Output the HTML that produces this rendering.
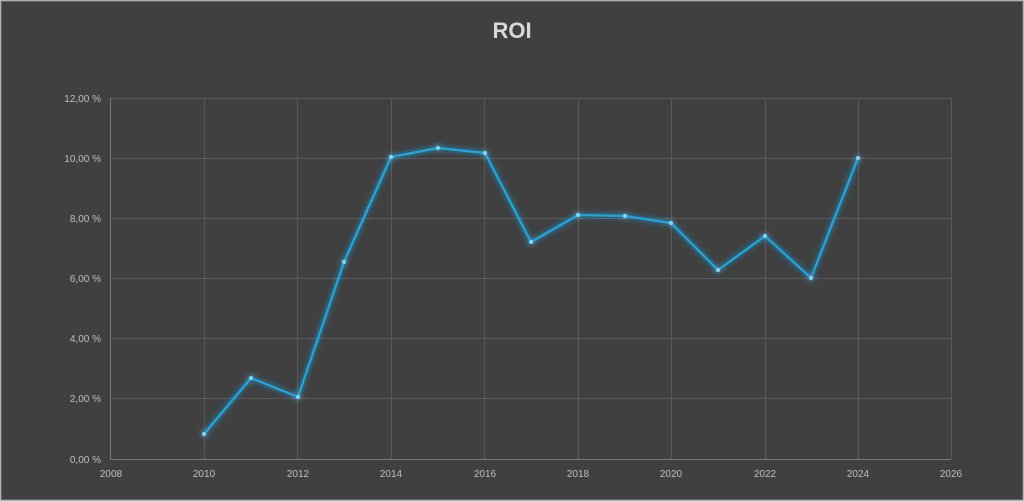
<!DOCTYPE html>
<html><head><style>
html,body{margin:0;padding:0;background:#d9d9d9;}
svg{display:block;}
</style></head><body>
<svg width="1024" height="502" xmlns="http://www.w3.org/2000/svg" font-family="Liberation Sans, sans-serif">
<defs>
<filter id="g" x="-10%" y="-10%" width="120%" height="120%">
<feGaussianBlur in="SourceGraphic" stdDeviation="3" result="b"/>
<feMerge><feMergeNode in="b"/><feMergeNode in="SourceGraphic"/></feMerge>
</filter>
</defs>
<rect x="1" y="1" width="1022" height="499" fill="#404040" stroke="#8a8a8a" stroke-width="1"/>
<text x="512" y="38" text-anchor="middle" font-size="22" font-weight="bold" fill="#d9d9d9">ROI</text>
<g stroke="#5a5a5a" stroke-width="1">
<line x1="110" y1="98.5" x2="951" y2="98.5"/>
<line x1="110" y1="158.5" x2="951" y2="158.5"/>
<line x1="110" y1="218.5" x2="951" y2="218.5"/>
<line x1="110" y1="278.5" x2="951" y2="278.5"/>
<line x1="110" y1="338.5" x2="951" y2="338.5"/>
<line x1="110" y1="398.5" x2="951" y2="398.5"/>
<line x1="204.5" y1="98" x2="204.5" y2="459"/>
<line x1="297.5" y1="98" x2="297.5" y2="459"/>
<line x1="391.5" y1="98" x2="391.5" y2="459"/>
<line x1="484.5" y1="98" x2="484.5" y2="459"/>
<line x1="578.5" y1="98" x2="578.5" y2="459"/>
<line x1="671.5" y1="98" x2="671.5" y2="459"/>
<line x1="765.5" y1="98" x2="765.5" y2="459"/>
<line x1="858.5" y1="98" x2="858.5" y2="459"/>
<line x1="951.5" y1="98" x2="951.5" y2="459"/>
</g>
<g stroke="#7a7a7a" stroke-width="1">
<line x1="110" y1="459.5" x2="951" y2="459.5"/>
<line x1="110.5" y1="98" x2="110.5" y2="459"/>
</g>
<g font-size="10" fill="#bfbfbf" text-anchor="end">
<text x="101" y="102">12,00 %</text>
<text x="101" y="162">10,00 %</text>
<text x="101" y="222">8,00 %</text>
<text x="101" y="282">6,00 %</text>
<text x="101" y="342">4,00 %</text>
<text x="101" y="402">2,00 %</text>
<text x="101" y="463">0,00 %</text>
</g>
<g font-size="10" fill="#bfbfbf" text-anchor="middle">
<text x="111" y="477">2008</text>
<text x="204" y="477">2010</text>
<text x="298" y="477">2012</text>
<text x="391" y="477">2014</text>
<text x="485" y="477">2016</text>
<text x="578" y="477">2018</text>
<text x="671" y="477">2020</text>
<text x="765" y="477">2022</text>
<text x="858" y="477">2024</text>
<text x="951" y="477">2026</text>
</g>
<g filter="url(#g)">
<polyline fill="none" stroke="#1ba8e2" stroke-width="2.2" stroke-linejoin="round" points="204,434 251,378 298,397 344,262 391,157 438,148 485,153 531,242 578,215 625,216 671,223 718,270 765,236 811,278 858,158"/>
<g fill="#7fd6ff">
<circle cx="204" cy="434" r="2"/><circle cx="251" cy="378" r="2"/><circle cx="298" cy="397" r="2"/><circle cx="344" cy="262" r="2"/><circle cx="391" cy="157" r="2"/><circle cx="438" cy="148" r="2"/><circle cx="485" cy="153" r="2"/><circle cx="531" cy="242" r="2"/><circle cx="578" cy="215" r="2"/><circle cx="625" cy="216" r="2"/><circle cx="671" cy="223" r="2"/><circle cx="718" cy="270" r="2"/><circle cx="765" cy="236" r="2"/><circle cx="811" cy="278" r="2"/><circle cx="858" cy="158" r="2"/>
</g>
</g>
</svg>
</body></html>
